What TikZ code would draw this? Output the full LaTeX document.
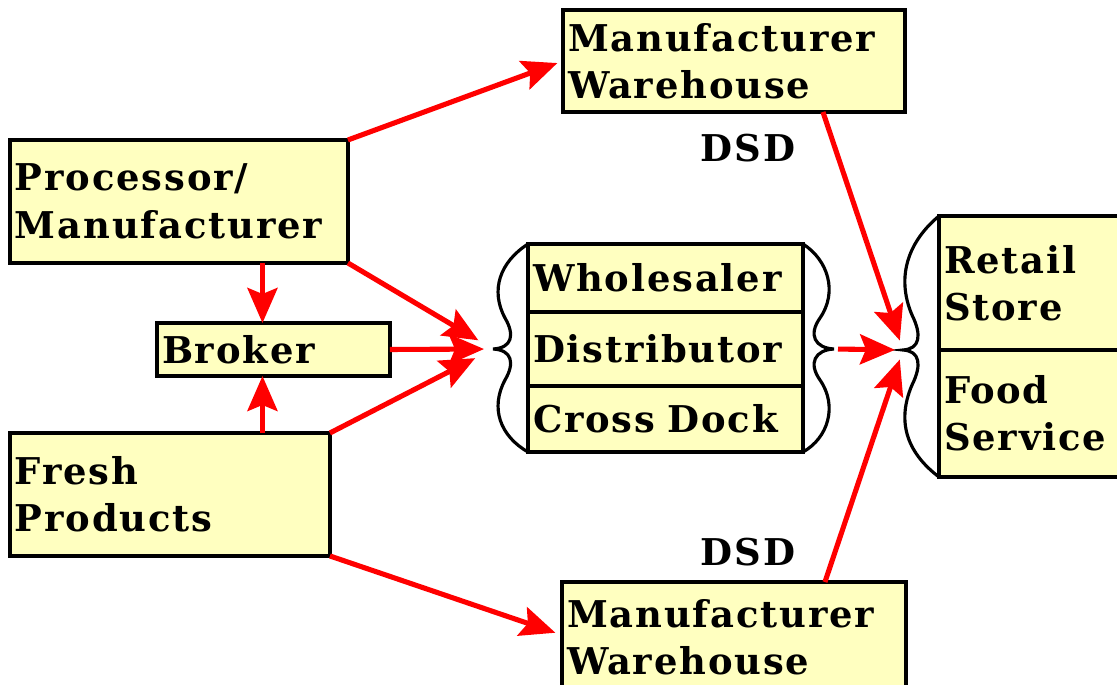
\documentclass[tikz,border=0pt]{standalone}
\usepackage{fontspec}
\setmainfont{DejaVu Serif}[LetterSpace=5]
\usetikzlibrary{arrows.meta, calc}
\definecolor{boxyellow}{HTML}{FFFFC0}

\begin{document}
\begin{tikzpicture}[x=0.02cm, y=-0.02cm,
    box/.style={draw, line width=1.8pt, fill=boxyellow, anchor=north west,
                inner xsep=0.1cm, inner ysep=0pt, outer sep=0pt, align=left,
                font=\fontsize{21}{27}\selectfont\bfseries},
    arr/.style={red, line width=2.9pt,
                -{Stealth[length=0.7cm, width=0.6cm, inset=0.12cm]}},
    brace/.style={line width=1.8pt},
    tag/.style={font=\fontsize{21}{27}\selectfont\bfseries}]
\useasboundingbox (0,0) rectangle (1117,685);
\clip (0,0) rectangle (1117,685);

% sources
\node[box, text width=6.56cm, minimum height=2.46cm] (proc) at (10,140) {Processor/\\Manufacturer};
\node[box, text width=4.46cm, minimum height=1.06cm] (broker) at (157,323) {Broker};
\node[box, text width=6.2cm, minimum height=2.46cm] (fresh) at (10,433) {Fresh\\Products};

% warehouses
\node[box, text width=6.64cm, minimum height=2.04cm] (wareTop) at (563,10) {Manufacturer\\Warehouse};
\node[box, text width=6.68cm, minimum height=2.2cm] (wareBot) at (562,582) {Manufacturer\\Warehouse\\[-0.3em]};
\node[tag] (dsdTop) at (748,148) {DSD};
\node[tag] (dsdBot) at (748,552) {DSD};

% middle stack
\node[box, text width=5.3cm, minimum height=1.36cm] (whole) at (528,244) {Wholesaler};
\node[box, text width=5.3cm, minimum height=1.48cm] (dist) at (528,312) {Distributor};
\node[box, text width=5.3cm, minimum height=1.32cm] (cross) at (528,386) {Cross Dock};

% outlets
\node[box, text width=4.22cm, minimum height=2.68cm] (retail) at (939,216) {Retail\\Store};
\node[box, text width=4.22cm, minimum height=2.54cm] (food) at (939,350) {Food\\Service};

% braces
\coordinate (midIn) at (493,349);
\coordinate (midOut) at (834,349);
\coordinate (shopIn) at (903,350);
\draw[brace] (528,244) .. controls (500,262) and (490,290) .. (505,318)
    .. controls (515,335) and (512,348) .. (midIn)
    .. controls (512,350) and (515,363) .. (505,380)
    .. controls (490,408) and (500,436) .. (528,452);
\draw[brace] (803,244) .. controls (828,260) and (838,292) .. (820,318)
    .. controls (808,335) and (815,348) .. (midOut)
    .. controls (815,350) and (808,363) .. (820,380)
    .. controls (838,406) and (828,438) .. (803,452);
\draw[brace] (939,216) .. controls (910,240) and (895,275) .. (912,315)
    .. controls (922,335) and (920,349) .. (shopIn)
    .. controls (920,351) and (922,365) .. (912,385)
    .. controls (895,425) and (910,455) .. (939,477);

% flows
\draw[arr, shorten >=0.12cm] (proc.north east) -- (wareTop.west);
\draw[arr, shorten >=0.34cm] (proc.south east) -- (midIn);
\draw[arr, shorten >=0.18cm] (broker.east) -- (midIn);
\draw[arr, shorten >=0.4cm] (fresh.north east) -- (midIn);
\draw[arr] ($(broker.north |- proc.south)+(-11,0)$) -- ($(broker.north)+(-11,0)$);
\draw[arr] ($(broker.south |- fresh.north)+(-11,0)$) -- ($(broker.south)+(-11,0)$);
\draw[arr, shorten >=0.14cm] (fresh.south east) -- ($(wareBot.north west)+(0,53)$);
\draw[arr, shorten >=0.2cm] ([xshift=1.78cm]wareTop.south) -- (shopIn);
\draw[arr, shorten <=0.08cm, shorten >=0.16cm] (midOut) -- (shopIn);
\draw[arr, shorten >=0.2cm] ([xshift=1.82cm]wareBot.north) -- (shopIn);
\end{tikzpicture}
\end{document}
